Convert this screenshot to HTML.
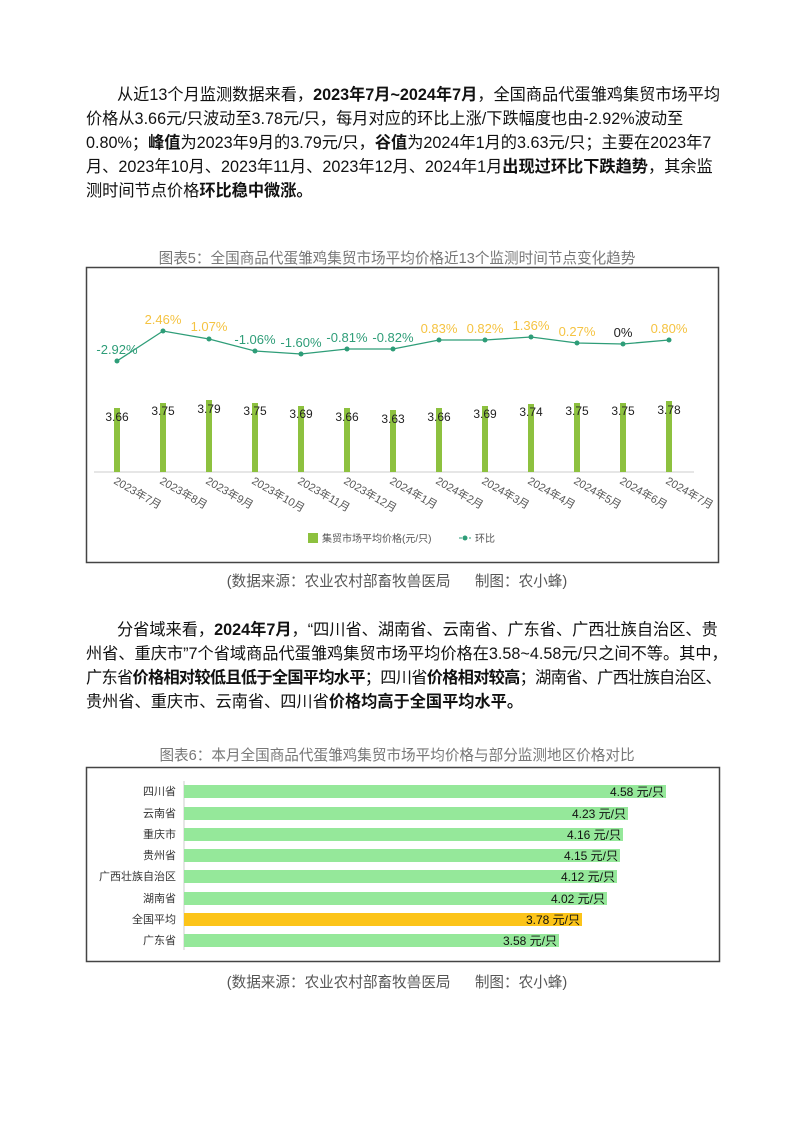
<!DOCTYPE html>
<html><head><meta charset="utf-8"><style>
body{margin:0;width:794px;height:1122px;background:#fff;position:relative;overflow:hidden;font-family:"Liberation Sans","Noto Sans CJK SC",sans-serif;color:#111}
.l{position:absolute;white-space:nowrap;font-size:16.2px;line-height:20px}
.c{position:absolute;white-space:nowrap;font-size:14.6px;color:#777;text-align:center;width:794px;left:0}
b{font-weight:bold}
</style></head><body>
<div class="l" style="left:117px;top:85px">从近13个月监测数据来看，<b>2023年7月~2024年7月</b>，全国商品代蛋雏鸡集贸市场平均</div>
<div class="l" style="left:86px;top:109px">价格从3.66元/只波动至3.78元/只，每月对应的环比上涨/下跌幅度也由-2.92%波动至</div>
<div class="l" style="left:86px;top:133px">0.80%；<b>峰值</b>为2023年9月的3.79元/只，<b>谷值</b>为2024年1月的3.63元/只；主要在2023年7</div>
<div class="l" style="left:86px;top:157px">月、2023年10月、2023年11月、2023年12月、2024年1月<b>出现过环比下跌趋势</b>，其余监</div>
<div class="l" style="left:86px;top:181px">测时间节点价格<b>环比稳中微涨。</b></div>
<div class="c" style="top:247px">图表5：全国商品代蛋雏鸡集贸市场平均价格近13个监测时间节点变化趋势</div>
<svg style="position:absolute;left:0;top:0" width="794" height="1122" font-family="Liberation Sans, Noto Sans CJK SC, sans-serif">
<rect x="86.5" y="267.5" width="632" height="295" fill="none" stroke="#444" stroke-width="1.5"/>
<line x1="94" y1="472" x2="694" y2="472" stroke="#ccc"/>
<g fill="#8dc13f">
<rect x="114" y="408" width="6" height="64"/><rect x="160" y="403" width="6" height="69"/><rect x="206" y="400" width="6" height="72"/><rect x="252" y="403" width="6" height="69"/><rect x="298" y="406" width="6" height="66"/><rect x="344" y="408" width="6" height="64"/><rect x="390" y="410" width="6" height="62"/><rect x="436" y="408" width="6" height="64"/><rect x="482" y="406" width="6" height="66"/><rect x="528" y="404" width="6" height="68"/><rect x="574" y="403" width="6" height="69"/><rect x="620" y="403" width="6" height="69"/><rect x="666" y="401" width="6" height="71"/>
</g>
<g font-size="12" fill="#222" text-anchor="middle">
<text x="117" y="421">3.66</text><text x="163" y="415">3.75</text><text x="209" y="413">3.79</text><text x="255" y="415">3.75</text><text x="301" y="418">3.69</text><text x="347" y="421">3.66</text><text x="393" y="423">3.63</text><text x="439" y="421">3.66</text><text x="485" y="418">3.69</text><text x="531" y="416">3.74</text><text x="577" y="415">3.75</text><text x="623" y="415">3.75</text><text x="669" y="414">3.78</text>
</g>
<polyline fill="none" stroke="#2e9d78" stroke-width="1.3" points="117,361 163,331 209,339 255,351 301,354 347,349 393,349 439,340 485,340 531,337 577,343 623,344 669,340"/>
<g fill="#2e9d78"><circle cx="117" cy="361" r="2.5"/><circle cx="163" cy="331" r="2.5"/><circle cx="209" cy="339" r="2.5"/><circle cx="255" cy="351" r="2.5"/><circle cx="301" cy="354" r="2.5"/><circle cx="347" cy="349" r="2.5"/><circle cx="393" cy="349" r="2.5"/><circle cx="439" cy="340" r="2.5"/><circle cx="485" cy="340" r="2.5"/><circle cx="531" cy="337" r="2.5"/><circle cx="577" cy="343" r="2.5"/><circle cx="623" cy="344" r="2.5"/><circle cx="669" cy="340" r="2.5"/></g>
<g font-size="13" text-anchor="middle">
<text x="117" y="354" fill="#2e9d78">-2.92%</text><text x="163" y="324" fill="#f5c342">2.46%</text><text x="209" y="331" fill="#f5c342">1.07%</text><text x="255" y="344" fill="#2e9d78">-1.06%</text><text x="301" y="347" fill="#2e9d78">-1.60%</text><text x="347" y="342" fill="#2e9d78">-0.81%</text><text x="393" y="342" fill="#2e9d78">-0.82%</text><text x="439" y="333" fill="#f5c342">0.83%</text><text x="485" y="333" fill="#f5c342">0.82%</text><text x="531" y="330" fill="#f5c342">1.36%</text><text x="577" y="336" fill="#f5c342">0.27%</text><text x="623" y="337" fill="#222">0%</text><text x="669" y="333" fill="#f5c342">0.80%</text>
</g>
<g font-size="11" fill="#555">
<text transform="translate(113,483) rotate(30)">2023年7月</text><text transform="translate(159,483) rotate(30)">2023年8月</text><text transform="translate(205,483) rotate(30)">2023年9月</text><text transform="translate(251,483) rotate(30)">2023年10月</text><text transform="translate(297,483) rotate(30)">2023年11月</text><text transform="translate(343,483) rotate(30)">2023年12月</text><text transform="translate(389,483) rotate(30)">2024年1月</text><text transform="translate(435,483) rotate(30)">2024年2月</text><text transform="translate(481,483) rotate(30)">2024年3月</text><text transform="translate(527,483) rotate(30)">2024年4月</text><text transform="translate(573,483) rotate(30)">2024年5月</text><text transform="translate(619,483) rotate(30)">2024年6月</text><text transform="translate(665,483) rotate(30)">2024年7月</text>
</g>
<rect x="308" y="533" width="10" height="10" fill="#8dc13f"/>
<text x="322" y="542" font-size="10" fill="#555">集贸市场平均价格(元/只)</text>
<line x1="459" y1="538" x2="471" y2="538" stroke="#2e9d78" stroke-dasharray="3,2"/><circle cx="465" cy="538" r="2.5" fill="#2e9d78"/>
<text x="475" y="542" font-size="10" fill="#555">环比</text>

<rect x="86.5" y="767.5" width="633" height="194" fill="none" stroke="#444" stroke-width="1.5"/>
<line x1="184" y1="781" x2="184" y2="950" stroke="#ccc"/>
<g fill="#95e89a">
<rect x="184" y="785" width="482" height="13"/><rect x="184" y="807" width="444" height="13"/><rect x="184" y="828" width="439" height="13"/><rect x="184" y="849" width="436" height="13"/><rect x="184" y="870" width="433" height="13"/><rect x="184" y="892" width="423" height="13"/><rect x="184" y="934" width="375" height="13"/>
</g>
<rect x="184" y="913" width="398" height="13" fill="#fcc419"/>
<g font-size="12" fill="#111" text-anchor="end">
<text x="664" y="796">4.58 元/只</text><text x="626" y="818">4.23 元/只</text><text x="621" y="839">4.16 元/只</text><text x="618" y="860">4.15 元/只</text><text x="615" y="881">4.12 元/只</text><text x="605" y="903">4.02 元/只</text><text x="580" y="924">3.78 元/只</text><text x="557" y="945">3.58 元/只</text>
</g>
<g font-size="11" fill="#333" text-anchor="end">
<text x="176" y="795">四川省</text><text x="176" y="817">云南省</text><text x="176" y="838">重庆市</text><text x="176" y="859">贵州省</text><text x="176" y="880">广西壮族自治区</text><text x="176" y="902">湖南省</text><text x="176" y="923">全国平均</text><text x="176" y="944">广东省</text>
</g>
</svg>
<div class="c" style="top:570px;color:#555">(数据来源：农业农村部畜牧兽医局&nbsp;&nbsp;&nbsp;&nbsp;&nbsp;&nbsp;制图：农小蜂)</div>
<div class="l" style="left:117px;top:620px">分省域来看，<b>2024年7月</b>，“四川省、湖南省、云南省、广东省、广西壮族自治区、贵</div>
<div class="l" style="left:86px;top:644px">州省、重庆市”7个省域商品代蛋雏鸡集贸市场平均价格在3.58~4.58元/只之间不等。其中，</div>
<div class="l" style="left:86px;top:668px;letter-spacing:-0.7px">广东省<b>价格相对较低且低于全国平均水平</b>；四川省<b>价格相对较高</b>；湖南省、广西壮族自治区、</div>
<div class="l" style="left:86px;top:692px">贵州省、重庆市、云南省、四川省<b>价格均高于全国平均水平。</b></div>
<div class="c" style="top:744px">图表6：本月全国商品代蛋雏鸡集贸市场平均价格与部分监测地区价格对比</div>
<div class="c" style="top:971px;color:#555">(数据来源：农业农村部畜牧兽医局&nbsp;&nbsp;&nbsp;&nbsp;&nbsp;&nbsp;制图：农小蜂)</div>
</body></html>
